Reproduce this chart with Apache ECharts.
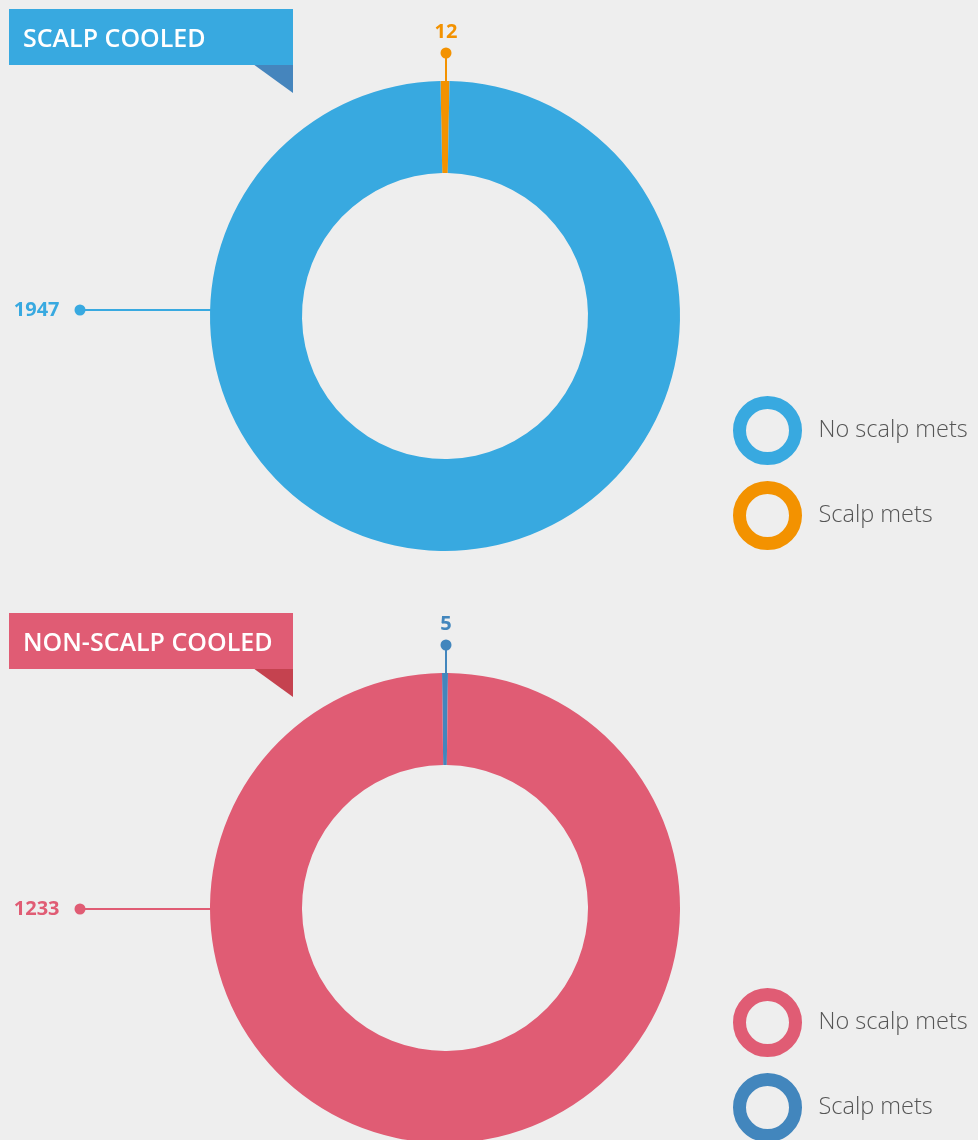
<!DOCTYPE html>
<html lang="en">
<head>
    <meta charset="UTF-8">
    <title>Scalp cooling</title>
    <script src="https://cdn.jsdelivr.net/npm/echarts@6/dist/echarts.min.js"></script>
    <style>
        html, body { margin: 0; padding: 0; background: #eeeeee; }
        #main { width: 978px; height: 1140px; }
    </style>
</head>
<body>
    <div id="main"></div>
    <script>
        // data
        var categories = ['Scalp mets', 'No scalp mets'];
        var cooledValues = [12, 1947];
        var nonCooledValues = [5, 1233];
        var panelTitles = ['SCALP COOLED', 'NON-SCALP COOLED'];
        var legendNames = ['No scalp mets', 'Scalp mets'];

        // layout
        var CX = 445, R_IN = 143, R_OUT = 235;
        var panels = [
            { cy: 316, lineDy: -6, top: 9, values: cooledValues, colors: ['#f39200', '#38a9e0'], banner: '#38a9e0', fold: '#4585bd' },
            { cy: 908, lineDy: 1, top: 613, values: nonCooledValues, colors: ['#4286bd', '#e05c74'], banner: '#e05c74', fold: '#c5424f' }
        ];

        var myChart = echarts.init(document.getElementById('main'));

        function makeSeries(p, idx) {
            var total = p.values[0] + p.values[1];
            var half = 360 * p.values[0] / total / 2;
            var rich = {};
            p.colors.forEach(function (c, i) {
                rich['v' + i] = { color: c, fontSize: 20, fontWeight: 'bold', fontFamily: 'Open Sans', lineHeight: 30, padding: i === 1 ? [0, 15, 0, 0] : 0 };
                rich['d' + i] = { width: 11, height: 11, borderRadius: 5.5, backgroundColor: c, lineHeight: 11 };
            });
            return {
                type: 'pie',
                center: [CX, p.cy],
                radius: [R_IN, R_OUT],
                startAngle: 90 + half,
                clockwise: true,
                avoidLabelOverlap: false,
                emphasis: { scale: false },
                itemStyle: { borderWidth: 0 },
                data: categories.map(function (name, i) {
                    return {
                        name: name,
                        value: p.values[i],
                        itemStyle: { color: p.colors[i] },
                        labelLine: { lineStyle: { color: p.colors[i], width: 2 } }
                    };
                }),
                label: {
                    show: true,
                    position: 'outside',
                    rich: rich,
                    formatter: function (params) {
                        var i = params.dataIndex;
                        return i === 0 ? '{v0|' + params.value + '}\n{d0|}' : '{v1|' + params.value + '}{d1|}';
                    }
                },
                labelLine: { show: true, length: 10, length2: 10, smooth: false },
                labelLayout: function (params) {
                    var topY = p.cy - R_OUT;
                    if (params.dataIndex === 0) {
                        var dotY = topY - 28;
                        return {
                            x: CX + 1, y: dotY + 5.5, align: 'center', verticalAlign: 'bottom',
                            labelLinePoints: [[CX + 1, dotY], [CX + 1, topY + 2], [CX + 1, topY + 2]]
                        };
                    }
                    var ly = p.cy + p.lineDy;
                    var dotX = CX - R_OUT - 130;
                    var edgeX = CX - Math.sqrt(R_OUT * R_OUT - p.lineDy * p.lineDy) + 2;
                    return {
                        x: dotX + 5.5, y: ly, align: 'right', verticalAlign: 'middle',
                        labelLinePoints: [[dotX, ly], [edgeX, ly], [edgeX, ly]]
                    };
                }
            };
        }

        function makeLegend(p, idx) {
            return {
                orient: 'vertical',
                left: 728,
                top: p.cy + 75,
                height: 220,
                icon: 'circle',
                itemWidth: 56,
                itemHeight: 56,
                itemGap: 16,
                selectedMode: false,
                textStyle: { fontSize: 23.5, color: '#555555', fontFamily: 'Open Sans', fontWeight: 300, padding: [0, 0, 0, 18] },
                data: legendNames.map(function (n) {
                    var c = p.colors[categories.indexOf(n)];
                    return { name: n, itemStyle: { color: '#eeeeee', borderColor: c, borderWidth: 13 } };
                })
            };
        }

        var graphics = [];
        panels.forEach(function (p, idx) {
            graphics.push({
                type: 'polygon', z: 1,
                shape: { points: [[253, p.top + 55], [293, p.top + 55], [293, p.top + 84]] },
                style: { fill: p.fold }
            });
            graphics.push({
                type: 'rect', z: 2,
                shape: { x: 9, y: p.top, width: 284, height: 56 },
                style: { fill: p.banner }
            });
            graphics.push({
                type: 'text', z: 3, x: 23, y: p.top + 31,
                style: {
                    text: panelTitles[idx], fill: '#ffffff', fontSize: 25, fontWeight: 600,
                    fontFamily: 'Open Sans', verticalAlign: 'middle', align: 'left'
                }
            });
        });

        var option = {
            backgroundColor: '#eeeeee',
            animation: false,
            legend: panels.map(makeLegend),
            graphic: graphics,
            series: panels.map(makeSeries)
        };
        myChart.setOption(option);
    </script>
</body>
</html>
